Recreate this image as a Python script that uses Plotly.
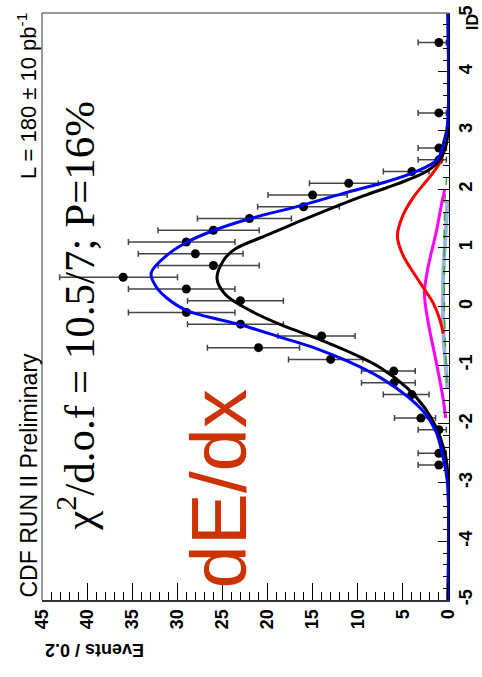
import plotly.graph_objects as go

# ---- data (ID bin centres, events per 0.2) ----
id_vals = [-2.7, -2.5, -2.1, -1.9, -1.5, -1.3, -1.1, -0.9, -0.7, -0.5, -0.3, -0.1,
           0.1, 0.3, 0.5, 0.7, 0.9, 1.1, 1.3, 1.5, 1.7, 1.9, 2.1, 2.3, 2.5, 2.7, 3.3, 4.5]
events = [1, 1, 1, 3, 4, 6, 6, 13, 21, 14, 23, 29,
          23, 29, 36, 26, 28, 29, 26, 22, 16, 15, 11, 4, 1, 1, 1, 1]
err_hi = [2.30, 2.30, 2.30, 2.92, 3.16, 3.58, 3.58, 4.67, 5.66, 4.83, 5.87, 6.42,
          5.87, 6.42, 7.05, 6.14, 6.33, 6.42, 6.14, 5.77, 5.10, 4.95, 4.35, 3.16, 2.30, 2.30, 2.30, 2.30]
err_lo = [0.83, 0.83, 0.83, 1.63, 1.91, 2.38, 2.38, 3.58, 4.55, 3.71, 4.76, 5.39,
          4.76, 5.39, 6.02, 5.08, 5.29, 5.39, 5.08, 4.65, 3.96, 3.84, 3.28, 1.91, 0.83, 0.83, 0.83, 0.83]

# ---- fitted curves ----
total_id = [-5, -3.0, -2.53, -2.14, -1.81, -1.53, -1.22, -0.94, -0.72, -0.52, -0.31, -0.07,
            0.15, 0.35, 0.57, 0.88, 1.10, 1.30, 1.50, 1.72, 1.95, 2.10, 2.29, 2.51, 2.84, 3.1, 5]
total_ev = [0, 0.05, 0.6, 1.3, 2.6, 4.5, 7.4, 11.0, 14.5, 18.6, 23.0, 28.9,
            31.2, 32.4, 32.9, 31.1, 28.9, 25.9, 21.9, 16.3, 11.1, 7.4, 3.7, 1.15, 0.4, 0.05, 0]

main_id = [-5, -2.7, -2.4, -2.06, -1.72, -1.39, -1.05, -0.77, -0.52, -0.33, -0.07, 0.21,
           0.48, 0.78, 0.97, 1.22, 1.45, 1.67, 1.89, 2.09, 2.31, 2.5, 2.75, 3.0, 5]
main_ev = [0, 0.1, 0.5, 1.3, 2.6, 4.5, 7.4, 11.0, 14.9, 18.2, 21.9, 24.7,
           25.6, 24.9, 23.7, 20.0, 16.5, 13.0, 9.3, 5.6, 2.3, 0.9, 0.2, 0, 0]

red_id = [-0.46, -0.2, 0.05, 0.27, 0.55, 0.88, 1.2, 1.55, 1.89, 2.23, 2.48, 2.75]
red_ev = [0.5, 0.95, 1.6, 2.5, 3.7, 5.0, 5.6, 5.0, 3.7, 1.9, 0.8, 0.35]

mag_id = [-1.9, -1.6, -1.3, -1.02, -0.72, -0.26, 0.21, 0.55, 0.88, 1.3, 1.67, 2.0]
mag_ev = [0.25, 0.5, 0.85, 1.2, 1.6, 2.2, 2.6, 2.35, 1.9, 1.25, 0.8, 0.35]

lb_id = [-1.4, -1.0, -0.6, -0.2, 0.2, 0.6, 1.0, 1.4, 1.8]
lb_ev = [0.05, 0.25, 0.45, 0.55, 0.55, 0.5, 0.35, 0.2, 0.05]

gr_id = [-1.3, -0.8, -0.3, 0.2, 0.7, 1.2, 1.7, 2.2]
gr_ev = [0.1, 0.25, 0.35, 0.4, 0.4, 0.4, 0.35, 0.15]

x_ticks = [45, 40, 35, 30, 25, 20, 15, 10, 5, 0]
id_ticks = [-5, -4, -3, -2, -1, 0, 1, 2, 3, 4, 5]

# ---- layout geometry (pixels) ----
W, H = 482, 677
L, R, T, B = 42, 33, 5, 77
PW, PH = W - L - R, H - T - B


def px(xp, yp):
    return (xp - L) / PW, (H - B - yp) / PH


fig = go.Figure()

fig.add_trace(go.Scatter(
    x=events, y=id_vals, mode="markers",
    marker=dict(color="black", size=9),
    error_x=dict(type="data", symmetric=False, array=err_hi, arrayminus=err_lo,
                 color="#444444", thickness=1.5, width=3),
    showlegend=False))

fig.add_trace(go.Scatter(x=lb_ev, y=lb_id, mode="lines", line=dict(color="rgba(110,150,210,0.7)", width=4, shape="spline"), showlegend=False))
fig.add_trace(go.Scatter(x=gr_ev, y=gr_id, mode="lines", line=dict(color="#33aa33", width=1.5, dash="dash", shape="spline"), showlegend=False))
fig.add_trace(go.Scatter(x=mag_ev, y=mag_id, mode="lines", line=dict(color="#ff00ff", width=3, shape="spline"), showlegend=False))
fig.add_trace(go.Scatter(x=red_ev, y=red_id, mode="lines", line=dict(color="#ff0000", width=3, shape="spline"), showlegend=False))
fig.add_trace(go.Scatter(x=main_ev, y=main_id, mode="lines", line=dict(color="black", width=3, shape="spline"), showlegend=False))
fig.add_trace(go.Scatter(x=total_ev, y=total_id, mode="lines", line=dict(color="#0000ff", width=3, shape="spline"), showlegend=False))

tickfont = dict(family="Liberation Sans, Arial", size=18, color="black", weight="bold")

fig.update_layout(
    width=W, height=H,
    margin=dict(l=L, r=R, t=T, b=B, pad=0),
    paper_bgcolor="white", plot_bgcolor="white",
    xaxis=dict(range=[45, -0.12], tickvals=x_ticks, ticktext=[str(v) for v in x_ticks],
               ticks="inside", ticklen=17, tickwidth=1, tickcolor="black",
               minor=dict(dtick=1, tick0=0, ticks="inside", ticklen=8, tickcolor="black"),
               showline=True, linecolor="#333333", linewidth=2,
               tickangle=-90, tickfont=tickfont, showgrid=False, zeroline=False),
    yaxis=dict(range=[-5, 5.002], side="right", tickvals=id_ticks, ticktext=[str(v) for v in id_ticks],
               ticks="inside", ticklen=11, tickwidth=1, tickcolor="black",
               minor=dict(dtick=0.2, tick0=0, ticks="inside", ticklen=6, tickcolor="black"),
               showline=True, linecolor="black", linewidth=1,
               tickangle=-90, tickfont=tickfont, showgrid=False, zeroline=False,
               ticklabeloverflow="allow"),
)

# gray frame (top and left)
fig.add_shape(type="line", xref="paper", yref="paper", x0=0, x1=1, y0=1, y1=1, line=dict(color="#777777", width=1.5))
fig.add_shape(type="line", xref="paper", yref="paper", x0=0, x1=0, y0=0, y1=1, line=dict(color="#777777", width=1.5))

ann = []
x, y = px(28, 600)
ann.append(dict(text="CDF RUN II Preliminary", x=x, y=y, xanchor="center", yanchor="bottom", textangle=-90,
                font=dict(family="Liberation Sans, Arial", size=23, color="black")))
x, y = px(27, 3)
ann.append(dict(text="L = 180 \u00b1 10 pb<sup>-1</sup>", x=x, y=y, xanchor="center", yanchor="top", textangle=-90,
                font=dict(family="Liberation Sans, Arial", size=22, color="black")))
x, y = px(76, 312)
ann.append(dict(text="\u03c7<sup>2</sup>/d.o.f = 10.5/7; P=16%", x=x, y=y, xanchor="center", yanchor="middle", textangle=-90,
                font=dict(family="Liberation Serif, Times New Roman", size=43, color="black")))
x, y = px(219, 488)
ann.append(dict(text="dE/dx", x=x, y=y, xanchor="center", yanchor="middle", textangle=-90,
                font=dict(family="Liberation Sans, Arial", size=78, color="#cc3300")))
x, y = px(95, 650)
ann.append(dict(text="Events / 0.2", x=x, y=y, xanchor="center", yanchor="middle", textangle=180,
                font=dict(family="Liberation Sans, Arial", size=18, color="black", weight="bold")))
x, y = px(473, 14)
ann.append(dict(text="ID", x=x, y=y, xanchor="center", yanchor="middle", textangle=-90,
                font=dict(family="Liberation Sans, Arial", size=16, color="black", weight="bold")))
for a in ann:
    a.update(xref="paper", yref="paper", showarrow=False)
fig.update_layout(annotations=ann)

fig.write_html("out.html")
